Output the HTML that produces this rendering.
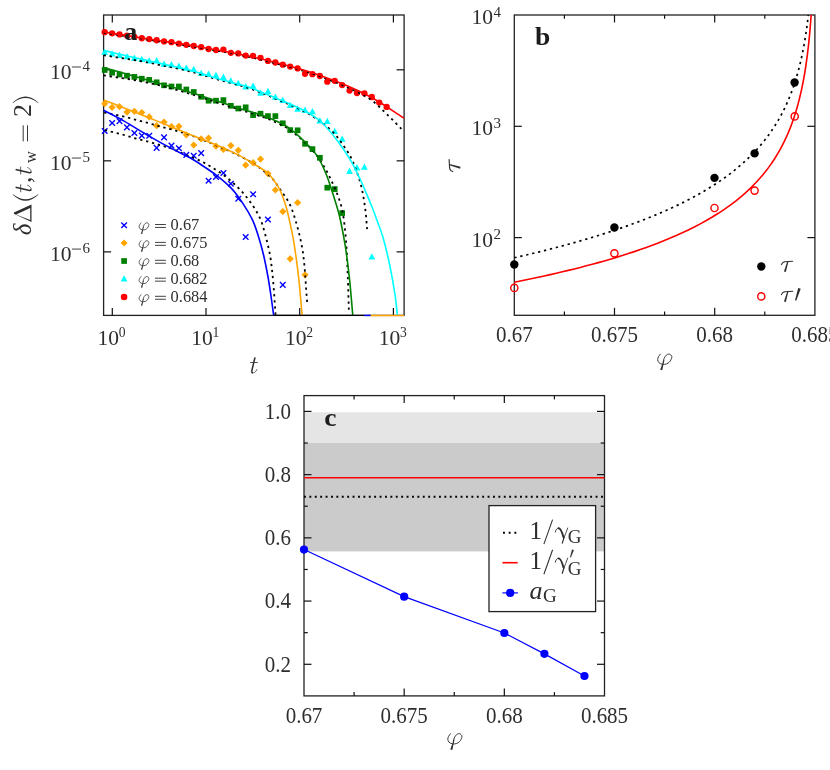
<!DOCTYPE html>
<html><head><meta charset="utf-8"><title>figure</title>
<style>html,body{margin:0;padding:0;background:#fff;}svg{display:block;will-change:transform;}text{font-family:"Liberation Serif",serif;}</style></head>
<body>
<svg width="830" height="770" viewBox="0 0 830 770" font-family='"Liberation Serif", serif' fill="#2e2e2e">
<rect width="830" height="770" fill="#fff"/>
<defs><clipPath id="ca"><rect x="99.1" y="15" width="305" height="301"/></clipPath></defs>
<rect x="103.6" y="15" width="300.5" height="300.4" fill="none" stroke="#222" stroke-width="1.3"/>
<line x1="112.3" y1="315.4" x2="112.3" y2="307.9" stroke="#111" stroke-width="1.2" />
<line x1="112.3" y1="15" x2="112.3" y2="22.5" stroke="#111" stroke-width="1.2" />
<line x1="206" y1="315.4" x2="206" y2="307.9" stroke="#111" stroke-width="1.2" />
<line x1="206" y1="15" x2="206" y2="22.5" stroke="#111" stroke-width="1.2" />
<line x1="299.7" y1="315.4" x2="299.7" y2="307.9" stroke="#111" stroke-width="1.2" />
<line x1="299.7" y1="15" x2="299.7" y2="22.5" stroke="#111" stroke-width="1.2" />
<line x1="393.4" y1="315.4" x2="393.4" y2="307.9" stroke="#111" stroke-width="1.2" />
<line x1="393.4" y1="15" x2="393.4" y2="22.5" stroke="#111" stroke-width="1.2" />
<line x1="103.6" y1="69.81" x2="111.1" y2="69.81" stroke="#111" stroke-width="1.2" />
<line x1="404.1" y1="69.81" x2="396.6" y2="69.81" stroke="#111" stroke-width="1.2" />
<line x1="103.6" y1="160.84" x2="111.1" y2="160.84" stroke="#111" stroke-width="1.2" />
<line x1="404.1" y1="160.84" x2="396.6" y2="160.84" stroke="#111" stroke-width="1.2" />
<line x1="103.6" y1="251.87" x2="111.1" y2="251.87" stroke="#111" stroke-width="1.2" />
<line x1="404.1" y1="251.87" x2="396.6" y2="251.87" stroke="#111" stroke-width="1.2" />
<g clip-path="url(#ca)">
<path d="M101.9,128.2L107.5,133.8M101.9,133.8L107.5,128.2" stroke="#0000ff" stroke-width="1.35" fill="none"/>
<path d="M109.32,120.2L114.92,125.8M109.32,125.8L114.92,120.2" stroke="#0000ff" stroke-width="1.35" fill="none"/>
<path d="M116.74,118.3L122.34,123.9M116.74,123.9L122.34,118.3" stroke="#0000ff" stroke-width="1.35" fill="none"/>
<path d="M124.16,124.6L129.76,130.2M124.16,130.2L129.76,124.6" stroke="#0000ff" stroke-width="1.35" fill="none"/>
<path d="M131.58,130.2L137.18,135.8M131.58,135.8L137.18,130.2" stroke="#0000ff" stroke-width="1.35" fill="none"/>
<path d="M139,132.8L144.6,138.4M139,138.4L144.6,132.8" stroke="#0000ff" stroke-width="1.35" fill="none"/>
<path d="M146.42,133L152.02,138.6M146.42,138.6L152.02,133" stroke="#0000ff" stroke-width="1.35" fill="none"/>
<path d="M153.84,145.1L159.44,150.7M153.84,150.7L159.44,145.1" stroke="#0000ff" stroke-width="1.35" fill="none"/>
<path d="M161.26,134.6L166.86,140.2M161.26,140.2L166.86,134.6" stroke="#0000ff" stroke-width="1.35" fill="none"/>
<path d="M168.68,142.8L174.28,148.4M168.68,148.4L174.28,142.8" stroke="#0000ff" stroke-width="1.35" fill="none"/>
<path d="M176.1,145.5L181.7,151.1M176.1,151.1L181.7,145.5" stroke="#0000ff" stroke-width="1.35" fill="none"/>
<path d="M183.52,152.1L189.12,157.7M183.52,157.7L189.12,152.1" stroke="#0000ff" stroke-width="1.35" fill="none"/>
<path d="M190.94,153L196.54,158.6M190.94,158.6L196.54,153" stroke="#0000ff" stroke-width="1.35" fill="none"/>
<path d="M198.36,150.3L203.96,155.9M198.36,155.9L203.96,150.3" stroke="#0000ff" stroke-width="1.35" fill="none"/>
<path d="M205.78,177.9L211.38,183.5M205.78,183.5L211.38,177.9" stroke="#0000ff" stroke-width="1.35" fill="none"/>
<path d="M213.2,174.2L218.8,179.8M213.2,179.8L218.8,174.2" stroke="#0000ff" stroke-width="1.35" fill="none"/>
<path d="M220.62,170.2L226.22,175.8M220.62,175.8L226.22,170.2" stroke="#0000ff" stroke-width="1.35" fill="none"/>
<path d="M228.04,180.9L233.64,186.5M228.04,186.5L233.64,180.9" stroke="#0000ff" stroke-width="1.35" fill="none"/>
<path d="M235.46,195.9L241.06,201.5M235.46,201.5L241.06,195.9" stroke="#0000ff" stroke-width="1.35" fill="none"/>
<path d="M242.88,234.2L248.48,239.8M242.88,239.8L248.48,234.2" stroke="#0000ff" stroke-width="1.35" fill="none"/>
<path d="M250.3,191.4L255.9,197M250.3,197L255.9,191.4" stroke="#0000ff" stroke-width="1.35" fill="none"/>
<path d="M265.14,216.7L270.74,222.3M265.14,222.3L270.74,216.7" stroke="#0000ff" stroke-width="1.35" fill="none"/>
<path d="M279.98,282.1L285.58,287.7M279.98,287.7L285.58,282.1" stroke="#0000ff" stroke-width="1.35" fill="none"/>
<path d="M104.7,100.1L108.3,103.7L104.7,107.3L101.1,103.7Z" fill="#ffa500"/>
<path d="M112.12,103.7L115.72,107.3L112.12,110.9L108.52,107.3Z" fill="#ffa500"/>
<path d="M119.54,103.1L123.14,106.7L119.54,110.3L115.94,106.7Z" fill="#ffa500"/>
<path d="M126.96,108.5L130.56,112.1L126.96,115.7L123.36,112.1Z" fill="#ffa500"/>
<path d="M134.38,107.7L137.98,111.3L134.38,114.9L130.78,111.3Z" fill="#ffa500"/>
<path d="M141.8,108.9L145.4,112.5L141.8,116.1L138.2,112.5Z" fill="#ffa500"/>
<path d="M149.22,113.3L152.82,116.9L149.22,120.5L145.62,116.9Z" fill="#ffa500"/>
<path d="M156.64,122.1L160.24,125.7L156.64,129.3L153.04,125.7Z" fill="#ffa500"/>
<path d="M164.06,118.5L167.66,122.1L164.06,125.7L160.46,122.1Z" fill="#ffa500"/>
<path d="M171.48,123L175.08,126.6L171.48,130.2L167.88,126.6Z" fill="#ffa500"/>
<path d="M178.9,122.7L182.5,126.3L178.9,129.9L175.3,126.3Z" fill="#ffa500"/>
<path d="M186.32,131.2L189.92,134.8L186.32,138.4L182.72,134.8Z" fill="#ffa500"/>
<path d="M193.74,141.4L197.34,145L193.74,148.6L190.14,145Z" fill="#ffa500"/>
<path d="M201.16,135.3L204.76,138.9L201.16,142.5L197.56,138.9Z" fill="#ffa500"/>
<path d="M208.58,134.4L212.18,138L208.58,141.6L204.98,138Z" fill="#ffa500"/>
<path d="M216,142.6L219.6,146.2L216,149.8L212.4,146.2Z" fill="#ffa500"/>
<path d="M223.42,145.9L227.02,149.5L223.42,153.1L219.82,149.5Z" fill="#ffa500"/>
<path d="M230.84,142L234.44,145.6L230.84,149.2L227.24,145.6Z" fill="#ffa500"/>
<path d="M238.26,146.7L241.86,150.3L238.26,153.9L234.66,150.3Z" fill="#ffa500"/>
<path d="M245.68,161.5L249.28,165.1L245.68,168.7L242.08,165.1Z" fill="#ffa500"/>
<path d="M253.1,159.1L256.7,162.7L253.1,166.3L249.5,162.7Z" fill="#ffa500"/>
<path d="M260.52,155.5L264.12,159.1L260.52,162.7L256.92,159.1Z" fill="#ffa500"/>
<path d="M267.94,170L271.54,173.6L267.94,177.2L264.34,173.6Z" fill="#ffa500"/>
<path d="M275.36,186.4L278.96,190L275.36,193.6L271.76,190Z" fill="#ffa500"/>
<path d="M282.78,208L286.38,211.6L282.78,215.2L279.18,211.6Z" fill="#ffa500"/>
<path d="M290.2,255.2L293.8,258.8L290.2,262.4L286.6,258.8Z" fill="#ffa500"/>
<path d="M297.62,199.1L301.22,202.7L297.62,206.3L294.02,202.7Z" fill="#ffa500"/>
<path d="M305.04,271.2L308.64,274.8L305.04,278.4L301.44,274.8Z" fill="#ffa500"/>
<rect x="101.85" y="67.15" width="5.7" height="5.7" fill="#008000"/>
<rect x="109.27" y="69.85" width="5.7" height="5.7" fill="#008000"/>
<rect x="116.69" y="71.65" width="5.7" height="5.7" fill="#008000"/>
<rect x="124.11" y="72.85" width="5.7" height="5.7" fill="#008000"/>
<rect x="131.53" y="74.05" width="5.7" height="5.7" fill="#008000"/>
<rect x="138.95" y="75.85" width="5.7" height="5.7" fill="#008000"/>
<rect x="146.37" y="77.05" width="5.7" height="5.7" fill="#008000"/>
<rect x="153.79" y="79.45" width="5.7" height="5.7" fill="#008000"/>
<rect x="161.21" y="82.45" width="5.7" height="5.7" fill="#008000"/>
<rect x="168.63" y="83.65" width="5.7" height="5.7" fill="#008000"/>
<rect x="176.05" y="83.65" width="5.7" height="5.7" fill="#008000"/>
<rect x="183.47" y="86.65" width="5.7" height="5.7" fill="#008000"/>
<rect x="190.89" y="89.15" width="5.7" height="5.7" fill="#008000"/>
<rect x="198.31" y="93.95" width="5.7" height="5.7" fill="#008000"/>
<rect x="205.73" y="97.85" width="5.7" height="5.7" fill="#008000"/>
<rect x="213.15" y="97.85" width="5.7" height="5.7" fill="#008000"/>
<rect x="220.57" y="97.25" width="5.7" height="5.7" fill="#008000"/>
<rect x="227.99" y="102.95" width="5.7" height="5.7" fill="#008000"/>
<rect x="235.41" y="105.65" width="5.7" height="5.7" fill="#008000"/>
<rect x="242.83" y="104.45" width="5.7" height="5.7" fill="#008000"/>
<rect x="250.25" y="112.25" width="5.7" height="5.7" fill="#008000"/>
<rect x="257.67" y="110.85" width="5.7" height="5.7" fill="#008000"/>
<rect x="265.09" y="113.25" width="5.7" height="5.7" fill="#008000"/>
<rect x="272.51" y="113.25" width="5.7" height="5.7" fill="#008000"/>
<rect x="279.93" y="120.45" width="5.7" height="5.7" fill="#008000"/>
<rect x="287.35" y="127.25" width="5.7" height="5.7" fill="#008000"/>
<rect x="294.77" y="127.45" width="5.7" height="5.7" fill="#008000"/>
<rect x="302.19" y="140.95" width="5.7" height="5.7" fill="#008000"/>
<rect x="309.61" y="146.25" width="5.7" height="5.7" fill="#008000"/>
<rect x="317.03" y="154.95" width="5.7" height="5.7" fill="#008000"/>
<rect x="324.45" y="184.85" width="5.7" height="5.7" fill="#008000"/>
<rect x="331.87" y="186.25" width="5.7" height="5.7" fill="#008000"/>
<rect x="339.29" y="210.25" width="5.7" height="5.7" fill="#008000"/>
<path d="M104.7,48.8L108.1,55.09L101.3,55.09Z" fill="#00ffff"/>
<path d="M112.12,50.2L115.52,56.49L108.72,56.49Z" fill="#00ffff"/>
<path d="M119.54,51.8L122.94,58.09L116.14,58.09Z" fill="#00ffff"/>
<path d="M126.96,53L130.36,59.29L123.56,59.29Z" fill="#00ffff"/>
<path d="M134.38,54.4L137.78,60.69L130.98,60.69Z" fill="#00ffff"/>
<path d="M141.8,55.8L145.2,62.09L138.4,62.09Z" fill="#00ffff"/>
<path d="M149.22,57.2L152.62,63.49L145.82,63.49Z" fill="#00ffff"/>
<path d="M156.64,57L160.04,63.29L153.24,63.29Z" fill="#00ffff"/>
<path d="M164.06,60.5L167.46,66.79L160.66,66.79Z" fill="#00ffff"/>
<path d="M171.48,61.1L174.88,67.39L168.08,67.39Z" fill="#00ffff"/>
<path d="M178.9,62.6L182.3,68.89L175.5,68.89Z" fill="#00ffff"/>
<path d="M186.32,64.4L189.72,70.69L182.92,70.69Z" fill="#00ffff"/>
<path d="M193.74,65.7L197.14,71.99L190.34,71.99Z" fill="#00ffff"/>
<path d="M201.16,69.7L204.56,75.99L197.76,75.99Z" fill="#00ffff"/>
<path d="M208.58,70.4L211.98,76.69L205.18,76.69Z" fill="#00ffff"/>
<path d="M216,71.8L219.4,78.09L212.6,78.09Z" fill="#00ffff"/>
<path d="M223.42,73.6L226.82,79.89L220.02,79.89Z" fill="#00ffff"/>
<path d="M230.84,77.3L234.24,83.59L227.44,83.59Z" fill="#00ffff"/>
<path d="M238.26,79.8L241.66,86.09L234.86,86.09Z" fill="#00ffff"/>
<path d="M245.68,83.1L249.08,89.39L242.28,89.39Z" fill="#00ffff"/>
<path d="M253.1,82.4L256.5,88.69L249.7,88.69Z" fill="#00ffff"/>
<path d="M260.52,89.5L263.92,95.79L257.12,95.79Z" fill="#00ffff"/>
<path d="M267.94,87.7L271.34,93.99L264.54,93.99Z" fill="#00ffff"/>
<path d="M275.36,93.5L278.76,99.79L271.96,99.79Z" fill="#00ffff"/>
<path d="M282.78,96.8L286.18,103.09L279.38,103.09Z" fill="#00ffff"/>
<path d="M290.2,101.7L293.6,107.99L286.8,107.99Z" fill="#00ffff"/>
<path d="M297.62,105.4L301.02,111.69L294.22,111.69Z" fill="#00ffff"/>
<path d="M305.04,106.6L308.44,112.89L301.64,112.89Z" fill="#00ffff"/>
<path d="M312.46,108L315.86,114.29L309.06,114.29Z" fill="#00ffff"/>
<path d="M319.88,117.3L323.28,123.59L316.48,123.59Z" fill="#00ffff"/>
<path d="M327.3,117.8L330.7,124.09L323.9,124.09Z" fill="#00ffff"/>
<path d="M334.72,127.7L338.12,133.99L331.32,133.99Z" fill="#00ffff"/>
<path d="M342.14,135.5L345.54,141.79L338.74,141.79Z" fill="#00ffff"/>
<path d="M349.56,167.6L352.96,173.89L346.16,173.89Z" fill="#00ffff"/>
<path d="M356.98,164.1L360.38,170.39L353.58,170.39Z" fill="#00ffff"/>
<path d="M364.4,163.4L367.8,169.69L361,169.69Z" fill="#00ffff"/>
<path d="M371.82,253.3L375.22,259.59L368.42,259.59Z" fill="#00ffff"/>
<circle cx="104.7" cy="32.17" r="3.15" fill="#ff0000"/>
<circle cx="112.12" cy="33.32" r="3.15" fill="#ff0000"/>
<circle cx="119.54" cy="34.47" r="3.15" fill="#ff0000"/>
<circle cx="126.96" cy="35.62" r="3.15" fill="#ff0000"/>
<circle cx="134.38" cy="36.78" r="3.15" fill="#ff0000"/>
<circle cx="141.8" cy="38.23" r="3.15" fill="#ff0000"/>
<circle cx="149.22" cy="39.08" r="3.15" fill="#ff0000"/>
<circle cx="156.64" cy="40.24" r="3.15" fill="#ff0000"/>
<circle cx="164.06" cy="41.39" r="3.15" fill="#ff0000"/>
<circle cx="171.48" cy="42.15" r="3.15" fill="#ff0000"/>
<circle cx="178.9" cy="43.71" r="3.15" fill="#ff0000"/>
<circle cx="186.32" cy="44.87" r="3.15" fill="#ff0000"/>
<circle cx="193.74" cy="46.02" r="3.15" fill="#ff0000"/>
<circle cx="201.16" cy="47.22" r="3.15" fill="#ff0000"/>
<circle cx="208.58" cy="49.01" r="3.15" fill="#ff0000"/>
<circle cx="216" cy="50.01" r="3.15" fill="#ff0000"/>
<circle cx="223.42" cy="49.6" r="3.15" fill="#ff0000"/>
<circle cx="230.84" cy="52.8" r="3.15" fill="#ff0000"/>
<circle cx="238.26" cy="53.39" r="3.15" fill="#ff0000"/>
<circle cx="245.68" cy="55.59" r="3.15" fill="#ff0000"/>
<circle cx="253.1" cy="55.78" r="3.15" fill="#ff0000"/>
<circle cx="260.52" cy="57.85" r="3.15" fill="#ff0000"/>
<circle cx="267.94" cy="60.92" r="3.15" fill="#ff0000"/>
<circle cx="275.36" cy="62.49" r="3.15" fill="#ff0000"/>
<circle cx="282.78" cy="64.66" r="3.15" fill="#ff0000"/>
<circle cx="290.2" cy="66.53" r="3.15" fill="#ff0000"/>
<circle cx="297.62" cy="68.4" r="3.15" fill="#ff0000"/>
<circle cx="305.04" cy="73.8" r="3.15" fill="#ff0000"/>
<circle cx="312.46" cy="74.2" r="3.15" fill="#ff0000"/>
<circle cx="319.88" cy="76" r="3.15" fill="#ff0000"/>
<circle cx="327.3" cy="81.7" r="3.15" fill="#ff0000"/>
<circle cx="334.72" cy="80.8" r="3.15" fill="#ff0000"/>
<circle cx="342.14" cy="85.1" r="3.15" fill="#ff0000"/>
<circle cx="349.56" cy="90.6" r="3.15" fill="#ff0000"/>
<circle cx="356.98" cy="93" r="3.15" fill="#ff0000"/>
<circle cx="364.4" cy="93.3" r="3.15" fill="#ff0000"/>
<circle cx="371.82" cy="97" r="3.15" fill="#ff0000"/>
<circle cx="379.24" cy="102.6" r="3.15" fill="#ff0000"/>
<circle cx="386.66" cy="106.9" r="3.15" fill="#ff0000"/>
<path d="M104.8,130.2C111.23,131.8 117.7,133.28 124.1,135C128.13,136.08 132.07,137.5 136.1,138.6C140.11,139.7 144.19,140.5 148.2,141.6C152.23,142.7 156.2,143.99 160.2,145.2C164.24,146.42 168.36,147.41 172.3,148.9C176.4,150.45 180.26,152.59 184.3,154.3C188.29,155.99 192.45,157.32 196.4,159.1C200.38,160.89 204.37,162.75 208.1,165C214.27,168.72 220.43,172.58 226.1,177C231.26,181.02 236.09,185.56 240.6,190.3C244.53,194.43 248.14,198.93 251.4,203.6C254.58,208.16 257.58,212.97 259.9,218C262.02,222.6 263.28,227.61 264.7,232.5C266.08,237.25 267.2,242.08 268.3,246.9C269.14,250.58 269.93,254.27 270.5,258C271.33,263.47 271.93,268.99 272.5,274.5C273.1,280.32 273.55,286.16 274,292C274.42,297.4 274.73,302.8 275.1,308.2C275.26,310.6 275.43,313 275.6,315.4" fill="none" stroke="#000" stroke-width="1.8" stroke-dasharray="2.3 3.8"/>
<path d="M104.2,112.5C110.83,113.87 117.51,115.07 124.1,116.6C128.14,117.54 132.09,118.84 136.1,119.9C140.12,120.97 144.19,121.89 148.2,123C152.22,124.12 156.17,125.5 160.2,126.6C164.21,127.7 168.3,128.47 172.3,129.6C178.24,131.27 184.19,132.93 190,135C198.13,137.9 206.14,141.16 214.1,144.5C222.2,147.9 230.35,151.27 238.2,155.2C244.81,158.51 251.42,162.03 257.5,166.2C262.65,169.73 267.61,173.79 271.9,178.3C275.64,182.23 278.52,186.99 281.6,191.5C284.56,195.83 287.85,200.06 290,204.8C292.98,211.39 295.01,218.5 297,225.5C299.05,232.7 300.77,240.03 302.1,247.4C303.31,254.1 303.95,260.92 304.6,267.7C305.35,275.58 305.72,283.5 306.3,291.4C306.59,295.33 306.9,299.27 307.2,303.2" fill="none" stroke="#000" stroke-width="1.8" stroke-dasharray="2.3 3.8"/>
<path d="M103.6,75.3C107.87,75.97 112.13,76.65 116.4,77.3C120.26,77.89 124.14,78.37 128,79C132.04,79.67 136.08,80.42 140.1,81.2C144.01,81.96 147.9,82.8 151.8,83.6C153.77,84 155.76,84.31 157.7,84.8C163.49,86.27 169.24,87.9 175,89.5C180.01,90.9 185.03,92.27 190,93.8C198.06,96.27 206.07,98.93 214.1,101.5C222.13,104.07 230.16,106.66 238.2,109.2C246.22,111.73 254.39,113.86 262.3,116.7C268.32,118.86 274.23,121.43 280,124.2C283.47,125.86 286.89,127.74 290,130C294.83,133.51 299.5,137.36 303.8,141.5C308.6,146.12 313.27,151.01 317.3,156.3C321.14,161.34 324.45,166.88 327.4,172.5C331.22,179.78 334.65,187.33 337.6,195C339.72,200.5 341.54,206.21 342.6,212C344.34,221.44 345.22,231.1 346,240.7C346.92,251.94 347.24,263.23 347.7,274.5C348.21,286.86 348.5,299.23 348.9,311.6" fill="none" stroke="#000" stroke-width="1.8" stroke-dasharray="2.3 3.8"/>
<path d="M103.6,55.2C107.87,55.9 112.13,56.62 116.4,57.3C120.26,57.92 124.13,58.5 128,59.1C132.03,59.73 136.08,60.31 140.1,61C144.01,61.67 147.91,62.42 151.8,63.2C153.88,63.62 155.93,64.17 158,64.6C163.66,65.77 169.35,66.8 175,68C180.01,69.07 185.05,70.07 190,71.4C199.68,74 209.25,77.06 218.9,79.8C228.52,82.53 238.34,84.62 247.8,87.8C257.6,91.09 267.15,95.21 276.7,99.2C285.81,103.01 295.03,106.7 303.8,111.2C309.7,114.23 315.35,117.88 320.7,121.8C325.49,125.31 330.07,129.25 334.2,133.5C337.37,136.75 340,140.56 342.6,144.3C345.63,148.66 348.73,153.06 351.1,157.8C353.8,163.2 355.84,168.97 357.8,174.7C359.51,179.71 361,184.83 362.1,190C363.53,196.69 364.53,203.5 365.4,210.3C366.2,216.57 366.53,222.9 367.1,229.2" fill="none" stroke="#000" stroke-width="1.8" stroke-dasharray="2.3 3.8"/>
<path d="M103.6,32.7C119.07,35.1 134.53,37.49 150,39.9C166.67,42.49 183.38,44.84 200,47.7C216.71,50.57 233.45,53.44 250,57.1C266.78,60.81 283.46,65.15 300,69.8C308.46,72.18 316.77,75.12 325,78.2C333.44,81.36 341.87,84.64 350,88.5C357.4,92.01 364.91,95.66 371.6,100.3C376.97,104.02 381.44,109.05 386.2,113.6C391.38,118.55 396.33,123.73 401.4,128.8" fill="none" stroke="#000" stroke-width="1.8" stroke-dasharray="2.3 3.8"/>
<path d="M103.6,110.2C110.43,113.83 117.38,117.27 124.1,121.1C132.24,125.74 140.08,130.92 148.2,135.6C156.15,140.18 164.2,144.6 172.3,148.9C178.13,152 184.21,154.63 190,157.8C193.71,159.83 197.27,162.17 200.8,164.5C206.1,168 211.49,171.42 216.5,175.3C221.55,179.22 226.65,183.25 231,187.9C235.48,192.68 239.35,198.13 243,203.6C246.58,208.97 249.98,214.56 252.7,220.4C255.21,225.8 256.91,231.6 258.7,237.3C260.51,243.07 262.12,248.91 263.5,254.8C265.22,262.15 266.65,269.57 268,277C269.15,283.31 270.06,289.66 271,296C271.96,302.52 272.8,309.07 273.7,315.6" fill="none" stroke="#0000ff" stroke-width="1.6" />
<path d="M103.6,100C110.43,102.63 117.28,105.23 124.1,107.9C132.15,111.06 140.17,114.29 148.2,117.5C156.24,120.72 164.27,123.95 172.3,127.2C178.21,129.59 184.09,132.02 190,134.4C198.02,137.62 206.14,140.62 214.1,144C222.21,147.45 230.32,150.96 238.2,154.9C243.19,157.4 247.93,160.4 252.7,163.3C257.56,166.26 262.71,168.96 267.1,172.5C269.81,174.69 271.88,177.7 274,180.5C275.91,183.03 277.72,185.7 279.2,188.5C280.72,191.37 281.87,194.45 283,197.5C284.34,201.12 285.58,204.78 286.6,208.5C287.91,213.28 288.95,218.15 290,223C291.28,228.88 292.66,234.76 293.6,240.7C295.56,253.02 297.29,265.4 298.7,277.8C300.13,290.37 300.97,303 302.1,315.6" fill="none" stroke="#ffa500" stroke-width="1.6" />
<path d="M103.6,67.6C108.9,69.07 114.21,70.49 119.5,72C124.71,73.49 129.89,75.11 135.1,76.6C140.29,78.08 145.51,79.44 150.7,80.9C153.81,81.77 156.9,82.71 160,83.6C170,86.47 180.05,89.17 190,92.2C198.08,94.67 206.06,97.48 214.1,100.1C222.13,102.72 230.15,105.36 238.2,107.9C246.21,110.43 254.39,112.48 262.3,115.3C268.33,117.45 274.23,120.03 280,122.8C283.47,124.46 286.95,126.28 290,128.6C294.88,132.31 299.47,136.53 303.8,140.9C308.57,145.7 313.51,150.55 317.3,156.1C320.81,161.25 323.25,167.22 325.7,173C328.05,178.52 329.86,184.28 331.7,190C334.39,198.38 337.23,206.75 339.3,215.3C341.73,225.32 343.55,235.51 345.2,245.7C346.92,256.35 348.23,267.07 349.4,277.8C350.77,290.37 351.67,303 352.8,315.6" fill="none" stroke="#008000" stroke-width="1.6" />
<path d="M103.6,50.4C108.9,51.67 114.2,52.95 119.5,54.2C124.7,55.42 129.9,56.62 135.1,57.8C140.3,58.98 145.5,60.13 150.7,61.3C153.8,62 156.9,62.7 160,63.4C170,65.66 180.09,67.59 190,70.2C199.72,72.76 209.23,76.12 218.9,78.9C228.5,81.66 238.35,83.61 247.8,86.8C257.62,90.11 267.14,94.36 276.7,98.4C285.81,102.26 295.07,105.92 303.8,110.5C309.73,113.62 315.75,117.05 320.7,121.5C327.02,127.18 332.4,134.11 337.6,140.9C342.53,147.34 347.02,154.19 351.1,161.2C354.89,167.72 357.95,174.68 361.2,181.5C362.92,185.11 364.44,188.82 366,192.5C368.04,197.32 370.09,202.13 372,207C374.09,212.3 376.06,217.64 378,223C379.8,227.98 381.79,232.91 383.2,238C385.76,247.24 387.95,256.61 389.9,266C391.88,275.51 393.53,285.1 395,294.7C396.06,301.63 396.67,308.63 397.5,315.6" fill="none" stroke="#00ffff" stroke-width="1.6" />
<path d="M103.6,32C119.07,34.4 134.53,36.79 150,39.2C166.67,41.79 183.38,44.14 200,47C216.71,49.87 233.45,52.76 250,56.4C266.78,60.09 283.45,64.41 300,69C308.45,71.34 316.75,74.23 325,77.2C333.42,80.23 341.83,83.36 350,87C358.5,90.79 366.94,94.85 375,99.5C384.97,105.25 394.4,111.97 404.1,118.2" fill="none" stroke="#ff0000" stroke-width="1.6" />
</g>
<line x1="273" y1="315.4" x2="364.3" y2="315.4" stroke="#000" stroke-width="1.3" />
<line x1="364.3" y1="315.4" x2="370.7" y2="315.4" stroke="#0000ff" stroke-width="1.5" />
<line x1="370.7" y1="315.4" x2="404.1" y2="315.4" stroke="#ffa500" stroke-width="1.5" />
<text x="97.6" y="345" font-size="21.5" text-anchor="start" >10</text>
<text x="118.8" y="336.7" font-size="13.6" text-anchor="start" >0</text>
<text x="191.3" y="345" font-size="21.5" text-anchor="start" >10</text>
<text x="212.5" y="336.7" font-size="13.6" text-anchor="start" >1</text>
<text x="285" y="345" font-size="21.5" text-anchor="start" >10</text>
<text x="306.2" y="336.7" font-size="13.6" text-anchor="start" >2</text>
<text x="378.7" y="345" font-size="21.5" text-anchor="start" >10</text>
<text x="399.9" y="336.7" font-size="13.6" text-anchor="start" >3</text>
<text x="49.9" y="78.61" font-size="21.5" text-anchor="start" >10</text>
<path d="M71.9,67.01h9.1" stroke="#2e2e2e" stroke-width="0.9" fill="none"/>
<text x="82.6" y="71.21" font-size="15" text-anchor="start" >4</text>
<text x="49.9" y="169.64" font-size="21.5" text-anchor="start" >10</text>
<path d="M71.9,158.04h9.1" stroke="#2e2e2e" stroke-width="0.9" fill="none"/>
<text x="82.6" y="162.24" font-size="15" text-anchor="start" >5</text>
<text x="49.9" y="260.67" font-size="21.5" text-anchor="start" >10</text>
<path d="M71.9,249.07h9.1" stroke="#2e2e2e" stroke-width="0.9" fill="none"/>
<text x="82.6" y="253.27" font-size="15" text-anchor="start" >6</text>
<g transform="translate(249.9,373.1) scale(1)" stroke="#2e2e2e" fill="none">
<path d="M5.1,-15.7L2.0,-2.8C1.7,-1.4 2.0,-0.5 2.9,-0.15" stroke-width="1.55"/>
<path d="M2.5,-0.25C4.2,0.5 6.0,-1.3 7.0,-3.6" stroke-width="0.75" stroke-linecap="round"/>
<path d="M0.1,-10.6H8.0" stroke-width="0.8"/>
</g>
<g transform="translate(31.3,235.3) rotate(-90)" font-size="26" text-anchor="start">
<text x="0" y="0" font-style="italic" font-size="25">δ</text>
<path fill-rule="evenodd" fill="#2e2e2e" d="M13.4,0.2L21.6,-17.4H22.9L30.8,0.2ZM15.2,-1.1H27.3L20.9,-15.2Z"/>
<path fill="#2e2e2e" d="M40.6,-18.6Q28.5,-5.8 40.6,7.0L41.0,6.7Q31.0,-5.8 41.0,-18.3Z"/>
<g transform="translate(43,0) scale(1)" stroke="#2e2e2e" fill="none">
<path d="M5.1,-15.7L2.0,-2.8C1.7,-1.4 2.0,-0.5 2.9,-0.15" stroke-width="1.55"/>
<path d="M2.5,-0.25C4.2,0.5 6.0,-1.3 7.0,-3.6" stroke-width="0.75" stroke-linecap="round"/>
<path d="M0.1,-10.6H8.0" stroke-width="0.8"/>
</g>
<text x="52.2" y="0" font-size="26">,</text>
<g transform="translate(60.7,0) scale(1)" stroke="#2e2e2e" fill="none">
<path d="M5.1,-15.7L2.0,-2.8C1.7,-1.4 2.0,-0.5 2.9,-0.15" stroke-width="1.55"/>
<path d="M2.5,-0.25C4.2,0.5 6.0,-1.3 7.0,-3.6" stroke-width="0.75" stroke-linecap="round"/>
<path d="M0.1,-10.6H8.0" stroke-width="0.8"/>
</g>
<text x="72.2" y="4.3" font-size="16.5">w</text>
<path d="M93.9,-8.1h16.1M93.9,-3.8h16.1" stroke="#2e2e2e" stroke-width="0.95" fill="none"/>
<text x="118.4" y="0" font-size="26">2</text>
<path fill="#2e2e2e" d="M132.7,-18.6Q144.8,-5.8 132.7,7.0L132.3,6.7Q142.3,-5.8 132.3,-18.3Z"/>
</g>
<text transform="translate(124.2,39.8) scale(1.06,1)" font-size="24.5" font-weight="bold" fill="#1c1c1c">a</text>
<path d="M121.3,222.4L126.9,228M121.3,228L126.9,222.4" stroke="#0000ff" stroke-width="1.35" fill="none"/>
<path d="M124.1,239.6L127.6,243.1L124.1,246.6L120.6,243.1Z" fill="#ffa500"/>
<rect x="121.25" y="258.15" width="5.7" height="5.7" fill="#008000"/>
<path d="M124.1,275.2L127.5,281.49L120.7,281.49Z" fill="#00ffff"/>
<circle cx="124.1" cy="297" r="3.3" fill="#ff0000"/>
<g transform="translate(139,229.9) scale(0.69)" stroke="#2e2e2e" fill="#2e2e2e">
<path d="M2.9,-10.2C2.27,-9.33 1.46,-8.55 1,-7.6C0.56,-6.68 0.13,-5.58 0.2,-4.6C0.27,-3.61 0.69,-2.38 1.4,-1.7C2.29,-0.84 3.74,-0.21 5,0C6.31,0.22 7.83,0.01 9.1,-0.4C10.1,-0.72 11.01,-1.48 11.8,-2.2C12.41,-2.75 12.97,-3.45 13.3,-4.2C13.8,-5.35 14.53,-6.82 14.3,-7.9C14.1,-8.82 12.9,-9.94 12,-10.2C11.17,-10.44 9.83,-10 9.1,-9.4C8.03,-8.53 7.23,-7.09 6.6,-5.8C6.1,-4.76 6,-3.53 5.7,-2.4" fill="none" stroke-width="1.14" stroke-linecap="round"/>
<path d="M6.25,-4.6L6.95,-4.4L4.7,6.0L2.7,5.5Z" stroke="none"/>
</g>
<path d="M155,224.5h10.9M155,227.45h10.9" stroke="#2e2e2e" stroke-width="0.9" fill="none"/>
<text x="170.6" y="230.4" font-size="16.4" text-anchor="start">0.67</text>
<g transform="translate(139,247.8) scale(0.69)" stroke="#2e2e2e" fill="#2e2e2e">
<path d="M2.9,-10.2C2.27,-9.33 1.46,-8.55 1,-7.6C0.56,-6.68 0.13,-5.58 0.2,-4.6C0.27,-3.61 0.69,-2.38 1.4,-1.7C2.29,-0.84 3.74,-0.21 5,0C6.31,0.22 7.83,0.01 9.1,-0.4C10.1,-0.72 11.01,-1.48 11.8,-2.2C12.41,-2.75 12.97,-3.45 13.3,-4.2C13.8,-5.35 14.53,-6.82 14.3,-7.9C14.1,-8.82 12.9,-9.94 12,-10.2C11.17,-10.44 9.83,-10 9.1,-9.4C8.03,-8.53 7.23,-7.09 6.6,-5.8C6.1,-4.76 6,-3.53 5.7,-2.4" fill="none" stroke-width="1.14" stroke-linecap="round"/>
<path d="M6.25,-4.6L6.95,-4.4L4.7,6.0L2.7,5.5Z" stroke="none"/>
</g>
<path d="M155,242.4h10.9M155,245.35h10.9" stroke="#2e2e2e" stroke-width="0.9" fill="none"/>
<text x="170.6" y="248.3" font-size="16.4" text-anchor="start">0.675</text>
<g transform="translate(139,265.7) scale(0.69)" stroke="#2e2e2e" fill="#2e2e2e">
<path d="M2.9,-10.2C2.27,-9.33 1.46,-8.55 1,-7.6C0.56,-6.68 0.13,-5.58 0.2,-4.6C0.27,-3.61 0.69,-2.38 1.4,-1.7C2.29,-0.84 3.74,-0.21 5,0C6.31,0.22 7.83,0.01 9.1,-0.4C10.1,-0.72 11.01,-1.48 11.8,-2.2C12.41,-2.75 12.97,-3.45 13.3,-4.2C13.8,-5.35 14.53,-6.82 14.3,-7.9C14.1,-8.82 12.9,-9.94 12,-10.2C11.17,-10.44 9.83,-10 9.1,-9.4C8.03,-8.53 7.23,-7.09 6.6,-5.8C6.1,-4.76 6,-3.53 5.7,-2.4" fill="none" stroke-width="1.14" stroke-linecap="round"/>
<path d="M6.25,-4.6L6.95,-4.4L4.7,6.0L2.7,5.5Z" stroke="none"/>
</g>
<path d="M155,260.3h10.9M155,263.25h10.9" stroke="#2e2e2e" stroke-width="0.9" fill="none"/>
<text x="170.6" y="266.2" font-size="16.4" text-anchor="start">0.68</text>
<g transform="translate(139,283.6) scale(0.69)" stroke="#2e2e2e" fill="#2e2e2e">
<path d="M2.9,-10.2C2.27,-9.33 1.46,-8.55 1,-7.6C0.56,-6.68 0.13,-5.58 0.2,-4.6C0.27,-3.61 0.69,-2.38 1.4,-1.7C2.29,-0.84 3.74,-0.21 5,0C6.31,0.22 7.83,0.01 9.1,-0.4C10.1,-0.72 11.01,-1.48 11.8,-2.2C12.41,-2.75 12.97,-3.45 13.3,-4.2C13.8,-5.35 14.53,-6.82 14.3,-7.9C14.1,-8.82 12.9,-9.94 12,-10.2C11.17,-10.44 9.83,-10 9.1,-9.4C8.03,-8.53 7.23,-7.09 6.6,-5.8C6.1,-4.76 6,-3.53 5.7,-2.4" fill="none" stroke-width="1.14" stroke-linecap="round"/>
<path d="M6.25,-4.6L6.95,-4.4L4.7,6.0L2.7,5.5Z" stroke="none"/>
</g>
<path d="M155,278.2h10.9M155,281.15h10.9" stroke="#2e2e2e" stroke-width="0.9" fill="none"/>
<text x="170.6" y="284.1" font-size="16.4" text-anchor="start">0.682</text>
<g transform="translate(139,301.7) scale(0.69)" stroke="#2e2e2e" fill="#2e2e2e">
<path d="M2.9,-10.2C2.27,-9.33 1.46,-8.55 1,-7.6C0.56,-6.68 0.13,-5.58 0.2,-4.6C0.27,-3.61 0.69,-2.38 1.4,-1.7C2.29,-0.84 3.74,-0.21 5,0C6.31,0.22 7.83,0.01 9.1,-0.4C10.1,-0.72 11.01,-1.48 11.8,-2.2C12.41,-2.75 12.97,-3.45 13.3,-4.2C13.8,-5.35 14.53,-6.82 14.3,-7.9C14.1,-8.82 12.9,-9.94 12,-10.2C11.17,-10.44 9.83,-10 9.1,-9.4C8.03,-8.53 7.23,-7.09 6.6,-5.8C6.1,-4.76 6,-3.53 5.7,-2.4" fill="none" stroke-width="1.14" stroke-linecap="round"/>
<path d="M6.25,-4.6L6.95,-4.4L4.7,6.0L2.7,5.5Z" stroke="none"/>
</g>
<path d="M155,296.3h10.9M155,299.25h10.9" stroke="#2e2e2e" stroke-width="0.9" fill="none"/>
<text x="170.6" y="302.2" font-size="16.4" text-anchor="start">0.684</text>
<defs><clipPath id="cb"><rect x="509.3" y="15" width="310.6" height="300.3"/></clipPath></defs>
<rect x="514.3" y="15" width="300.6" height="300.3" fill="none" stroke="#222" stroke-width="1.3"/>
<line x1="614.5" y1="315.3" x2="614.5" y2="307.8" stroke="#111" stroke-width="1.2" />
<line x1="614.5" y1="15" x2="614.5" y2="22.5" stroke="#111" stroke-width="1.2" />
<line x1="714.7" y1="315.3" x2="714.7" y2="307.8" stroke="#111" stroke-width="1.2" />
<line x1="714.7" y1="15" x2="714.7" y2="22.5" stroke="#111" stroke-width="1.2" />
<line x1="564.4" y1="315.3" x2="564.4" y2="311.5" stroke="#111" stroke-width="1.2" />
<line x1="564.4" y1="15" x2="564.4" y2="18.8" stroke="#111" stroke-width="1.2" />
<line x1="664.6" y1="315.3" x2="664.6" y2="311.5" stroke="#111" stroke-width="1.2" />
<line x1="664.6" y1="15" x2="664.6" y2="18.8" stroke="#111" stroke-width="1.2" />
<line x1="764.8" y1="315.3" x2="764.8" y2="311.5" stroke="#111" stroke-width="1.2" />
<line x1="764.8" y1="15" x2="764.8" y2="18.8" stroke="#111" stroke-width="1.2" />
<line x1="514.3" y1="126.3" x2="521.8" y2="126.3" stroke="#111" stroke-width="1.2" />
<line x1="814.9" y1="126.3" x2="807.4" y2="126.3" stroke="#111" stroke-width="1.2" />
<line x1="514.3" y1="237.6" x2="521.8" y2="237.6" stroke="#111" stroke-width="1.2" />
<line x1="814.9" y1="237.6" x2="807.4" y2="237.6" stroke="#111" stroke-width="1.2" />
<g clip-path="url(#cb)">
<path d="M514.3,282.23L520.3,281.03L526.3,279.8L532.3,278.55L538.3,277.27L544.3,275.96L550.3,274.62L556.3,273.25L562.3,271.84L568.3,270.4L574.3,268.93L580.3,267.41L586.3,265.85L592.3,264.25L598.3,262.61L604.3,260.92L610.3,259.17L616.3,257.38L622.3,255.52L628.3,253.6L634.3,251.62L640.3,249.57L646.3,247.45L652.3,245.25L658.3,242.96L664.3,240.58L670.3,238.09L676.3,235.5L682.3,232.8L688.3,229.96L694.3,226.98L700.3,223.84L706.3,220.53L712.3,217.02L718.3,213.3L724.3,209.33L730.3,205.09L736.3,200.52L742.3,195.58L744.3,193.84L746.3,192.05L748.3,190.21L750.3,188.3L752.3,186.34L754.3,184.31L756.3,182.22L758.3,180.05L760.3,177.79L762.3,175.46L764.3,173.03L766.3,170.5L768.3,167.87L770.3,165.12L772.3,162.24L774.3,159.22L776.3,156.04L778.3,152.7L780.3,149.17L782.3,145.43L784.3,141.45L786.3,137.2L788.3,132.64L790.3,127.73L790.9,126.18L791.5,124.6L792.1,122.97L792.7,121.29L793.3,119.58L793.9,117.81L794.5,116L795.1,114.13L795.7,112.2L796.3,110.22L796.9,108.17L797.5,106.05L798.1,103.86L798.7,101.6L799.3,99.25L799.9,96.81L800.5,94.28L801.1,91.65L801.7,88.9L802.3,86.03L802.9,83.02L803.5,79.87L804.1,76.56L804.7,73.08L805.3,69.39L805.9,65.49L806.5,61.33L807.1,56.9L807.7,52.15L808.3,47.02L808.9,41.46L809.5,35.39L810.1,28.71L810.7,21.28L811.3,12.92" fill="none" stroke="#ff0000" stroke-width="1.6" stroke-linejoin="round"/>
<path d="M514.3,257.76L520.3,256.38L526.3,254.97L532.3,253.53L538.3,252.07L544.3,250.57L550.3,249.04L556.3,247.48L562.3,245.89L568.3,244.26L574.3,242.59L580.3,240.88L586.3,239.13L592.3,237.34L598.3,235.5L604.3,233.61L610.3,231.66L616.3,229.67L622.3,227.61L628.3,225.5L634.3,223.32L640.3,221.07L646.3,218.74L652.3,216.33L658.3,213.84L664.3,211.26L670.3,208.57L676.3,205.78L682.3,202.87L688.3,199.83L694.3,196.65L700.3,193.31L706.3,189.8L712.3,186.1L718.3,182.18L724.3,178.03L730.3,173.6L736.3,168.85L742.3,163.74L744.3,161.95L746.3,160.11L748.3,158.21L750.3,156.26L752.3,154.24L754.3,152.17L756.3,150.02L758.3,147.81L760.3,145.52L762.3,143.14L764.3,140.67L766.3,138.11L768.3,135.44L770.3,132.66L772.3,129.76L774.3,126.72L776.3,123.53L778.3,120.17L780.3,116.63L782.3,112.89L784.3,108.91L786.3,104.67L788.3,100.13L790.3,95.25L790.9,93.71L791.5,92.13L792.1,90.51L792.7,88.85L793.3,87.15L793.9,85.4L794.5,83.6L795.1,81.75L795.7,79.84L796.3,77.87L796.9,75.84L797.5,73.75L798.1,71.58L798.7,69.34L799.3,67.01L799.9,64.6L800.5,62.09L801.1,59.49L801.7,56.76L802.3,53.92L802.9,50.95L803.5,47.83L804.1,44.55L804.7,41.09L805.3,37.44L805.9,33.56L806.5,29.43L807.1,25.02L807.7,20.29L808.3,15.17" fill="none" stroke="#000" stroke-width="1.7" stroke-dasharray="2.3 3.8"/>
</g>
<circle cx="514.3" cy="264.5" r="4.2" fill="#000"/>
<circle cx="614.4" cy="227.5" r="4.2" fill="#000"/>
<circle cx="714.5" cy="177.9" r="4.2" fill="#000"/>
<circle cx="754.6" cy="153.4" r="4.2" fill="#000"/>
<circle cx="794.6" cy="82.5" r="4.2" fill="#000"/>
<circle cx="514.3" cy="287.9" r="3.6" fill="none" stroke="#ff0000" stroke-width="1.4"/>
<circle cx="614.4" cy="253.4" r="3.6" fill="none" stroke="#ff0000" stroke-width="1.4"/>
<circle cx="714.5" cy="208" r="3.6" fill="none" stroke="#ff0000" stroke-width="1.4"/>
<circle cx="754.6" cy="190.6" r="3.6" fill="none" stroke="#ff0000" stroke-width="1.4"/>
<circle cx="794.7" cy="116.4" r="3.6" fill="none" stroke="#ff0000" stroke-width="1.4"/>
<text transform="translate(514.3,341.8) scale(1,1.05)" font-size="21" text-anchor="middle" >0.67</text>
<text transform="translate(614.5,341.8) scale(1,1.05)" font-size="21" text-anchor="middle" >0.675</text>
<text transform="translate(714.7,341.8) scale(1,1.05)" font-size="21" text-anchor="middle" >0.68</text>
<text transform="translate(814.9,341.8) scale(1,1.05)" font-size="21" text-anchor="middle" >0.685</text>
<text x="471.5" y="23.9" font-size="21.5" text-anchor="start" >10</text>
<text x="493.5" y="16.5" font-size="15" text-anchor="start" >4</text>
<text x="471.5" y="135.2" font-size="21.5" text-anchor="start" >10</text>
<text x="493.5" y="127.8" font-size="15" text-anchor="start" >3</text>
<text x="471.5" y="246.5" font-size="21.5" text-anchor="start" >10</text>
<text x="493.5" y="239.1" font-size="15" text-anchor="start" >2</text>
<g transform="translate(657.5,364.3) scale(1)" stroke="#2e2e2e" fill="#2e2e2e">
<path d="M2.9,-10.2C2.27,-9.33 1.46,-8.55 1,-7.6C0.56,-6.68 0.13,-5.58 0.2,-4.6C0.27,-3.61 0.69,-2.38 1.4,-1.7C2.29,-0.84 3.74,-0.21 5,0C6.31,0.22 7.83,0.01 9.1,-0.4C10.1,-0.72 11.01,-1.48 11.8,-2.2C12.41,-2.75 12.97,-3.45 13.3,-4.2C13.8,-5.35 14.53,-6.82 14.3,-7.9C14.1,-8.82 12.9,-9.94 12,-10.2C11.17,-10.44 9.83,-10 9.1,-9.4C8.03,-8.53 7.23,-7.09 6.6,-5.8C6.1,-4.76 6,-3.53 5.7,-2.4" fill="none" stroke-width="0.95" stroke-linecap="round"/>
<path d="M6.25,-4.6L6.95,-4.4L4.7,6.0L2.7,5.5Z" stroke="none"/>
</g>
<g transform="translate(460.4,171.8) rotate(-90) scale(1.07)" stroke="#2e2e2e" fill="#2e2e2e">
<path d="M0.25,-7.2C0.9,-9.1 2.1,-10.0 3.8,-10.1L11.5,-10.55" fill="none" stroke-width="1.05" stroke-linecap="round"/>
<path d="M6.05,-10.2L7.25,-10.2L4.65,0.1L2.75,-0.3Z" stroke="none"/>
</g>
<text transform="translate(534.9,44.8) scale(1.1,1)" font-size="25" font-weight="bold" fill="#1c1c1c">b</text>
<circle cx="761.3" cy="266.5" r="4.2" fill="#000"/>
<circle cx="761.3" cy="296.4" r="3.6" fill="none" stroke="#ff0000" stroke-width="1.4"/>
<g transform="translate(781.2,271.8) rotate(0) scale(1)" stroke="#2e2e2e" fill="#2e2e2e">
<path d="M0.25,-7.2C0.9,-9.1 2.1,-10.0 3.8,-10.1L11.5,-10.55" fill="none" stroke-width="1.05" stroke-linecap="round"/>
<path d="M6.05,-10.2L7.25,-10.2L4.65,0.1L2.75,-0.3Z" stroke="none"/>
</g>
<g transform="translate(781.2,301.8) rotate(0) scale(1)" stroke="#2e2e2e" fill="#2e2e2e">
<path d="M0.25,-7.2C0.9,-9.1 2.1,-10.0 3.8,-10.1L11.5,-10.55" fill="none" stroke-width="1.05" stroke-linecap="round"/>
<path d="M6.05,-10.2L7.25,-10.2L4.65,0.1L2.75,-0.3Z" stroke="none"/>
</g>
<path d="M798.2,288.0L800.7,288.7L796.2,300.7L795.0,300.3Z" fill="#2e2e2e"/>
<rect x="304" y="412.21" width="300.5" height="30.81" fill="#e5e5e5"/>
<rect x="304" y="443.02" width="300.5" height="108.38" fill="#cbcbcb"/>
<rect x="304" y="395.6" width="300.5" height="300.3" fill="none" stroke="#222" stroke-width="1.3"/>
<line x1="404.17" y1="695.9" x2="404.17" y2="688.4" stroke="#111" stroke-width="1.2" />
<line x1="404.17" y1="395.6" x2="404.17" y2="403.1" stroke="#111" stroke-width="1.2" />
<line x1="504.33" y1="695.9" x2="504.33" y2="688.4" stroke="#111" stroke-width="1.2" />
<line x1="504.33" y1="395.6" x2="504.33" y2="403.1" stroke="#111" stroke-width="1.2" />
<line x1="354.08" y1="695.9" x2="354.08" y2="692.1" stroke="#111" stroke-width="1.2" />
<line x1="354.08" y1="395.6" x2="354.08" y2="399.4" stroke="#111" stroke-width="1.2" />
<line x1="454.25" y1="695.9" x2="454.25" y2="692.1" stroke="#111" stroke-width="1.2" />
<line x1="454.25" y1="395.6" x2="454.25" y2="399.4" stroke="#111" stroke-width="1.2" />
<line x1="554.42" y1="695.9" x2="554.42" y2="692.1" stroke="#111" stroke-width="1.2" />
<line x1="554.42" y1="395.6" x2="554.42" y2="399.4" stroke="#111" stroke-width="1.2" />
<line x1="304" y1="411.41" x2="311.5" y2="411.41" stroke="#111" stroke-width="1.2" />
<line x1="604.5" y1="411.41" x2="597" y2="411.41" stroke="#111" stroke-width="1.2" />
<line x1="304" y1="474.63" x2="311.5" y2="474.63" stroke="#111" stroke-width="1.2" />
<line x1="604.5" y1="474.63" x2="597" y2="474.63" stroke="#111" stroke-width="1.2" />
<line x1="304" y1="537.85" x2="311.5" y2="537.85" stroke="#111" stroke-width="1.2" />
<line x1="604.5" y1="537.85" x2="597" y2="537.85" stroke="#111" stroke-width="1.2" />
<line x1="304" y1="601.07" x2="311.5" y2="601.07" stroke="#111" stroke-width="1.2" />
<line x1="604.5" y1="601.07" x2="597" y2="601.07" stroke="#111" stroke-width="1.2" />
<line x1="304" y1="664.29" x2="311.5" y2="664.29" stroke="#111" stroke-width="1.2" />
<line x1="604.5" y1="664.29" x2="597" y2="664.29" stroke="#111" stroke-width="1.2" />
<line x1="304" y1="443.02" x2="307.8" y2="443.02" stroke="#111" stroke-width="1.2" />
<line x1="604.5" y1="443.02" x2="600.7" y2="443.02" stroke="#111" stroke-width="1.2" />
<line x1="304" y1="506.24" x2="307.8" y2="506.24" stroke="#111" stroke-width="1.2" />
<line x1="604.5" y1="506.24" x2="600.7" y2="506.24" stroke="#111" stroke-width="1.2" />
<line x1="304" y1="569.46" x2="307.8" y2="569.46" stroke="#111" stroke-width="1.2" />
<line x1="604.5" y1="569.46" x2="600.7" y2="569.46" stroke="#111" stroke-width="1.2" />
<line x1="304" y1="632.68" x2="307.8" y2="632.68" stroke="#111" stroke-width="1.2" />
<line x1="604.5" y1="632.68" x2="600.7" y2="632.68" stroke="#111" stroke-width="1.2" />
<line x1="304" y1="496.75" x2="604.5" y2="496.75" stroke="#000" stroke-width="1.9" stroke-dasharray="1.9 3.5"/>
<line x1="304" y1="477.79" x2="604.5" y2="477.79" stroke="#ff0000" stroke-width="1.6" />
<path d="M304,549.54L404.17,596.64L504.33,633L544.4,653.86L584.47,675.99" fill="none" stroke="#0000ff" stroke-width="1.2" />
<circle cx="304" cy="549.54" r="4.1" fill="#0000ff"/>
<circle cx="404.17" cy="596.64" r="4.1" fill="#0000ff"/>
<circle cx="504.33" cy="633" r="4.1" fill="#0000ff"/>
<circle cx="544.4" cy="653.86" r="4.1" fill="#0000ff"/>
<circle cx="584.47" cy="675.99" r="4.1" fill="#0000ff"/>
<text transform="translate(304,723.3) scale(1,1.05)" font-size="21" text-anchor="middle" >0.67</text>
<text transform="translate(404.17,723.3) scale(1,1.05)" font-size="21" text-anchor="middle" >0.675</text>
<text transform="translate(504.33,723.3) scale(1,1.05)" font-size="21" text-anchor="middle" >0.68</text>
<text transform="translate(604.5,723.3) scale(1,1.05)" font-size="21" text-anchor="middle" >0.685</text>
<text transform="translate(291,418.71) scale(1,1.05)" font-size="21" text-anchor="end" >1.0</text>
<text transform="translate(291,481.93) scale(1,1.05)" font-size="21" text-anchor="end" >0.8</text>
<text transform="translate(291,545.15) scale(1,1.05)" font-size="21" text-anchor="end" >0.6</text>
<text transform="translate(291,608.37) scale(1,1.05)" font-size="21" text-anchor="end" >0.4</text>
<text transform="translate(291,671.59) scale(1,1.05)" font-size="21" text-anchor="end" >0.2</text>
<g transform="translate(447.6,743.9) scale(1)" stroke="#2e2e2e" fill="#2e2e2e">
<path d="M2.9,-10.2C2.27,-9.33 1.46,-8.55 1,-7.6C0.56,-6.68 0.13,-5.58 0.2,-4.6C0.27,-3.61 0.69,-2.38 1.4,-1.7C2.29,-0.84 3.74,-0.21 5,0C6.31,0.22 7.83,0.01 9.1,-0.4C10.1,-0.72 11.01,-1.48 11.8,-2.2C12.41,-2.75 12.97,-3.45 13.3,-4.2C13.8,-5.35 14.53,-6.82 14.3,-7.9C14.1,-8.82 12.9,-9.94 12,-10.2C11.17,-10.44 9.83,-10 9.1,-9.4C8.03,-8.53 7.23,-7.09 6.6,-5.8C6.1,-4.76 6,-3.53 5.7,-2.4" fill="none" stroke-width="0.95" stroke-linecap="round"/>
<path d="M6.25,-4.6L6.95,-4.4L4.7,6.0L2.7,5.5Z" stroke="none"/>
</g>
<text transform="translate(324.3,425.9) scale(1.1,1)" font-size="25" font-weight="bold" fill="#1c1c1c">c</text>
<rect x="489.0" y="505.6" width="106.6" height="106.0" fill="#fff" stroke="#222" stroke-width="1.3"/>
<line x1="502.4" y1="532.7" x2="517.7" y2="532.7" stroke="#000" stroke-width="1.9" stroke-dasharray="1.9 3.8" stroke-dashoffset="-0.6"/>
<line x1="502.4" y1="562.7" x2="517.7" y2="562.7" stroke="#ff0000" stroke-width="1.6" />
<line x1="502.4" y1="592.9" x2="517.9" y2="592.9" stroke="#0000ff" stroke-width="1.2" />
<circle cx="510.2" cy="592.9" r="4.1" fill="#0000ff"/>
<text x="529.4" y="538.5" font-size="25" text-anchor="start" >1</text>
<line x1="543.9" y1="544.1" x2="552.6" y2="519.6" stroke="#2e2e2e" stroke-width="1.05" />
<g transform="translate(555,538.5) scale(1)" stroke="#2e2e2e" fill="none" stroke-linecap="round">
<path d="M0.3,-6.5C0.8,-8.9 2.0,-10.4 3.5,-10.4" stroke-width="0.95"/>
<path d="M3.5,-10.2C5.6,-10.2 6.9,-7.0 8.5,-1.2" stroke-width="1.9"/>
<path d="M12.7,-10.5C11.6,-7.2 9.9,-3.2 8.8,-0.2" stroke-width="0.85"/>
<path d="M8.9,-0.6L7.3,4.6" stroke-width="1.2"/>
</g>
<text x="529.4" y="568.6" font-size="25" text-anchor="start" >1</text>
<line x1="543.9" y1="574.2" x2="552.6" y2="549.7" stroke="#2e2e2e" stroke-width="1.05" />
<g transform="translate(555,568.6) scale(1)" stroke="#2e2e2e" fill="none" stroke-linecap="round">
<path d="M0.3,-6.5C0.8,-8.9 2.0,-10.4 3.5,-10.4" stroke-width="0.95"/>
<path d="M3.5,-10.2C5.6,-10.2 6.9,-7.0 8.5,-1.2" stroke-width="1.9"/>
<path d="M12.7,-10.5C11.6,-7.2 9.9,-3.2 8.8,-0.2" stroke-width="0.85"/>
<path d="M8.9,-0.6L7.3,4.6" stroke-width="1.2"/>
</g>
<text x="567.7" y="542.5" font-size="19" text-anchor="start" >G</text>
<text x="567.7" y="575.3" font-size="19" text-anchor="start" >G</text>
<path d="M572.0,549.4L573.9,550.0L570.9,557.6L570.0,557.3Z" fill="#2e2e2e"/>
<text x="529.6" y="598.8" font-size="26" text-anchor="start" font-style="italic" >a</text>
<text x="542.9" y="602.4" font-size="19" text-anchor="start" >G</text>
</svg>
</body></html>
